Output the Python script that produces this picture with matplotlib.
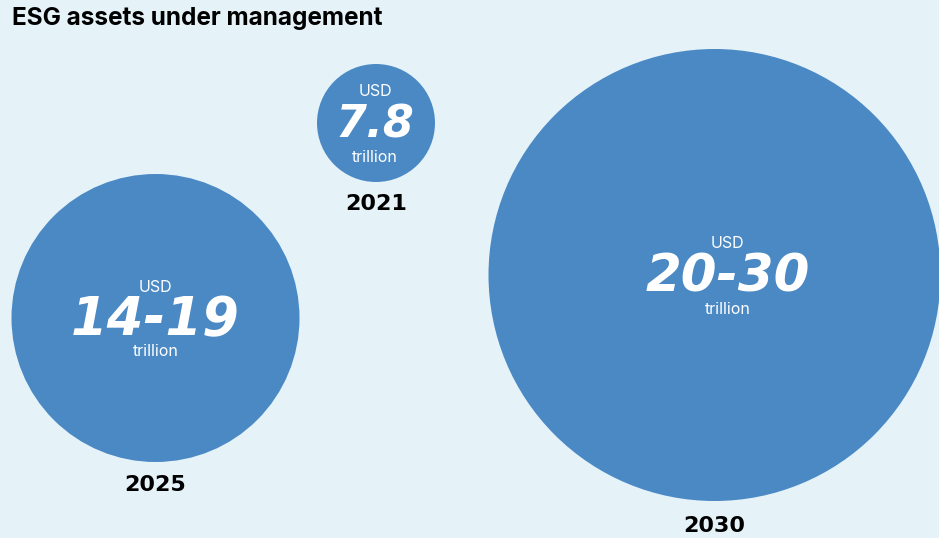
import matplotlib.pyplot as plt
from matplotlib.patches import Circle

# Data
years = ['2021', '2025', '2030']
values = ['7.8', '14-19', '20-30']
unit_top = 'USD'
unit_bottom = 'trillion'

# Layout in pixel coordinates (centre x, centre y, radius)
centers = [(376, 123), (155.5, 318), (714.5, 275)]
radii = [59, 144, 226]
text_dx = [-1, 0, 13]
num_sizes = [32, 38, 37]
year_offsets = [22, 23, 25]

bg = '#e5f3f9'
blue = '#4b89c5'

fig = plt.figure(figsize=(9.39, 5.38), dpi=100)
fig.patch.set_facecolor(bg)
ax = fig.add_axes([0, 0, 1, 1])
ax.set_facecolor(bg)
ax.set_xlim(0, 939)
ax.set_ylim(538, 0)
ax.set_aspect('equal')
ax.axis('off')

for (cx, cy), r, dx, val, yr, ns, yo in zip(centers, radii, text_dx, values, years,
                                             num_sizes, year_offsets):
    ax.add_patch(Circle((cx, cy), r, facecolor=blue, edgecolor='none'))
    tx = cx + dx
    ax.text(tx, cy - 31, unit_top, ha='center', va='center', color='white',
            fontsize=11.5, family='Inter')
    ax.text(tx, cy + 2, val, ha='center', va='center', color='white',
            fontsize=ns, family='DejaVu Sans', weight='bold', style='oblique')
    ax.text(tx, cy + 34, unit_bottom, ha='center', va='center', color='white',
            fontsize=11.5, family='Inter')
    ax.text(cx, cy + r + yo, yr, ha='center', va='center', color='black',
            fontsize=16, family='DejaVu Sans', weight='bold')

ax.text(12, 19, 'ESG assets under management', ha='left', va='center',
        color='black', fontsize=17.5, family='Inter', weight='bold')

fig.savefig('out.png', dpi=100, facecolor=bg)
